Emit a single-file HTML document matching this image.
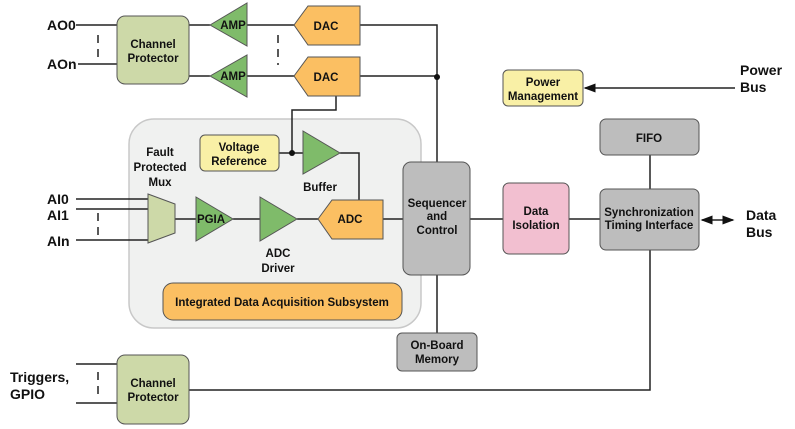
<!DOCTYPE html>
<html><head><style>body{margin:0;background:#fff}svg{display:block}text{font-family:"Liberation Sans",sans-serif;font-weight:bold;fill:#111}</style></head><body>
<svg width="795" height="429" viewBox="0 0 795 429">
<defs><marker id="ah" markerWidth="8" markerHeight="6" refX="7" refY="3" orient="auto"><path d="M0,0L8,3L0,6z" fill="#111"/></marker>
<marker id="ahs" markerWidth="8" markerHeight="6" refX="1" refY="3" orient="auto"><path d="M8,0L0,3L8,6z" fill="#111"/></marker></defs>
<g stroke="#222" stroke-width="1.5" fill="none">
<!-- container -->
<rect x="129" y="119" width="292" height="209" rx="25" fill="#f0f1f0" stroke="#c8c8c8"/>
<path d="M76 25H117M78 64H117M189 25H210M189 76H210M247 25H294M247 76H294M360 25H437V162M360 76H437M437 275V333"/>
<path d="M336 96V110H292V153M279 153H303M340 153H359V200"/>
<path d="M76 199H148M76 209H148M76 240H148M175 219H196M233 219H260M297 219H318M383 219H404M470 219H503M569 219H600M650 155V189"/>
<path d="M76 364H117M76 403H117M189 390H650V250"/>
<path d="M735 88H585" marker-end="url(#ah)"/>
<path d="M702 220H733" marker-end="url(#ah)" marker-start="url(#ahs)"/>
<path d="M98 35V60M98 213V236M98 372V397M278 35V65" stroke-dasharray="8,6"/>
</g>
<circle cx="437" cy="77" r="3" fill="#111"/><circle cx="292" cy="153" r="3" fill="#111"/>
<g stroke="#555" stroke-width="1">
<rect x="117" y="16" width="72" height="68" rx="8" fill="#cdd9a8"/>
<rect x="117" y="355" width="72" height="69" rx="8" fill="#cdd9a8"/>
<path d="M210 25L247 3V46Z" fill="#7fbb6a"/><path d="M210 76L247 55V97Z" fill="#7fbb6a"/>
<path d="M294 25L308 6H360V45H308Z" fill="#fbbf62"/><path d="M294 76L308 57H360V96H308Z" fill="#fbbf62"/>
<rect x="200" y="135" width="79" height="36" rx="5" fill="#f9f0a6"/>
<path d="M303 131L340 153L303 174Z" fill="#7fbb6a"/>
<path d="M148 194L175 204V233L148 243Z" fill="#cdd9a8"/>
<path d="M196 197L233 219L196 241Z" fill="#7fbb6a"/><path d="M260 197L297 219L260 241Z" fill="#7fbb6a"/>
<path d="M318 219L332 200H383V239H332Z" fill="#fbbf62"/>
<rect x="163" y="283" width="239" height="37" rx="10" fill="#fbbf62"/>
<rect x="403" y="162" width="67" height="113" rx="8" fill="#bdbdbd"/>
<rect x="397" y="333" width="80" height="38" rx="5" fill="#bdbdbd"/>
<rect x="503" y="183" width="66" height="71" rx="6" fill="#f2bfd0"/>
<rect x="600" y="119" width="99" height="36" rx="6" fill="#bdbdbd"/>
<rect x="600" y="189" width="99" height="61" rx="6" fill="#bdbdbd"/>
<rect x="503" y="70" width="80" height="36" rx="5" fill="#f9f0a6"/>
</g>
<g font-size="14">
<text x="47" y="30">AO0</text><text x="47" y="69">AOn</text>
<text x="47" y="204">AI0</text><text x="47" y="220">AI1</text><text x="47" y="246">AIn</text>
<text x="10" y="382">Triggers,</text><text x="10" y="399">GPIO</text>
<text x="740" y="75">Power</text><text x="740" y="92">Bus</text>
<text x="746" y="220">Data</text><text x="746" y="237">Bus</text>
</g>
<g font-size="11.5" text-anchor="middle">
<text x="153" y="48">Channel</text><text x="153" y="62">Protector</text>
<text x="153" y="387">Channel</text><text x="153" y="401">Protector</text>
<text x="233" y="29">AMP</text><text x="233" y="80">AMP</text>
<text x="326" y="30">DAC</text><text x="326" y="81">DAC</text>
<text x="239" y="151">Voltage</text><text x="239" y="165">Reference</text>
<text x="160" y="156">Fault</text><text x="160" y="171">Protected</text><text x="160" y="186">Mux</text>
<text x="320" y="191">Buffer</text>
<text x="211" y="223">PGIA</text>
<text x="350" y="223">ADC</text>
<text x="278" y="257">ADC</text><text x="278" y="272">Driver</text>
<text x="282" y="306">Integrated Data Acquisition Subsystem</text>
<text x="437" y="207">Sequencer</text><text x="437" y="220">and</text><text x="437" y="234">Control</text>
<text x="437" y="349">On-Board</text><text x="437" y="363">Memory</text>
<text x="536" y="215">Data</text><text x="536" y="229">Isolation</text>
<text x="649" y="142">FIFO</text>
<text x="649" y="216">Synchronization</text><text x="649" y="229">Timing Interface</text>
<text x="543" y="86">Power</text><text x="543" y="100">Management</text>
</g>
</svg>
</body></html>
